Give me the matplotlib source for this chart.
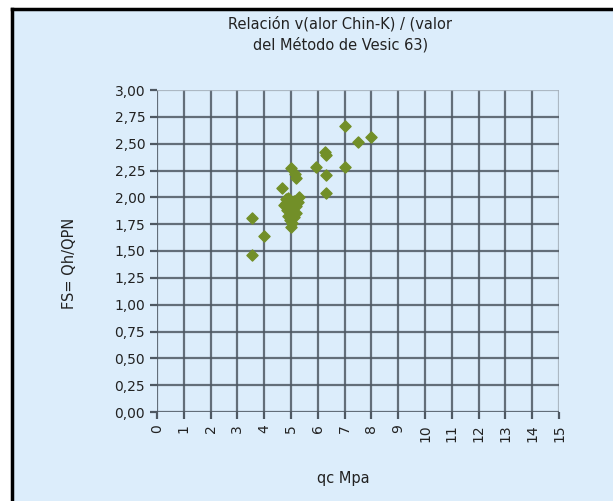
import numpy as np
import matplotlib.pyplot as plt
from matplotlib.patches import Rectangle
from matplotlib.lines import Line2D
from matplotlib.ticker import FuncFormatter

# qc (MPa) vs factor de seguridad
qc = [7.0, 7.5, 8.0, 6.25, 6.3, 5.95, 7.0, 6.3, 6.3, 5.0, 5.15, 5.2, 4.65,
      4.8, 4.9, 5.1, 5.25, 4.75, 5.0, 5.2, 4.85, 5.05, 5.2, 4.9, 5.1, 4.95,
      5.05, 5.0, 4.8, 5.3, 3.55, 4.0, 3.55]
fs = [2.66, 2.52, 2.56, 2.42, 2.39, 2.28, 2.28, 2.21, 2.04, 2.27, 2.22, 2.18, 2.09,
      1.98, 1.99, 1.97, 1.96, 1.93, 1.93, 1.92, 1.88, 1.87, 1.85, 1.83, 1.82, 1.79,
      1.76, 1.72, 1.95, 2.0, 1.81, 1.64, 1.46]

x_ticks = np.arange(0, 16, 1)
y_ticks = np.arange(0, 3.01, 0.25)

bg = '#dcedfb'
grid_c = '#4e5862'

fig = plt.figure(figsize=(6.13, 5.01), dpi=100)
fig.patch.set_facecolor('white')
fig.patches.append(Rectangle((12 / 613, 0), 1, 1 - 8.5 / 501, transform=fig.transFigure,
                             facecolor=bg, edgecolor='none', zorder=-10))
fig.lines.append(Line2D([12 / 613, 1], [1 - 8.5 / 501] * 2, transform=fig.transFigure,
                        color='black', lw=2.5))
fig.lines.append(Line2D([12 / 613] * 2, [0, 1 - 8.5 / 501], transform=fig.transFigure,
                        color='black', lw=2.5))

ax = fig.add_axes([157 / 613, 1 - 412 / 501, (559 - 157) / 613, (412 - 90) / 501])
ax.set_facecolor(bg)
ax.scatter(qc, fs, marker='D', s=32, color='#728f28', edgecolors='#728f28', zorder=3)

ax.set_xlim(0, 15)
ax.set_ylim(0, 3)
ax.set_xticks(x_ticks)
ax.set_yticks(y_ticks)
ax.yaxis.set_major_formatter(FuncFormatter(lambda v, p: f'{v:.2f}'.replace('.', ',')))
ax.grid(True, color=grid_c, lw=1.6, alpha=0.85)
ax.get_xgridlines()[-1].set_color('#a4afba')
ax.get_ygridlines()[-1].set_color('#a4afba')
ax.set_axisbelow(True)
for s in ax.spines.values():
    s.set_visible(False)
ax.tick_params(axis='both', length=5, width=1.6, color=grid_c, labelsize=10,
               labelcolor='#222222')
ax.tick_params(axis='x', labelrotation=90, pad=4)

fig.text(0.555, 0.952, 'Relación v(alor Chin-K) / (valor', ha='center', va='center',
         fontsize=10.5, color='#222222')
fig.text(0.555, 0.910, 'del Método de Vesic 63)', ha='center', va='center',
         fontsize=10.5, color='#222222')
fig.text(70 / 613, 1 - 263 / 501, 'FS= Qh/QPN', rotation=90, ha='center', va='center',
         fontsize=10.5, color='#222222')
fig.text(343 / 613, 1 - 478 / 501, 'qc Mpa', ha='center', va='center',
         fontsize=10.5, color='#222222')

fig.savefig('out.png', dpi=100)
